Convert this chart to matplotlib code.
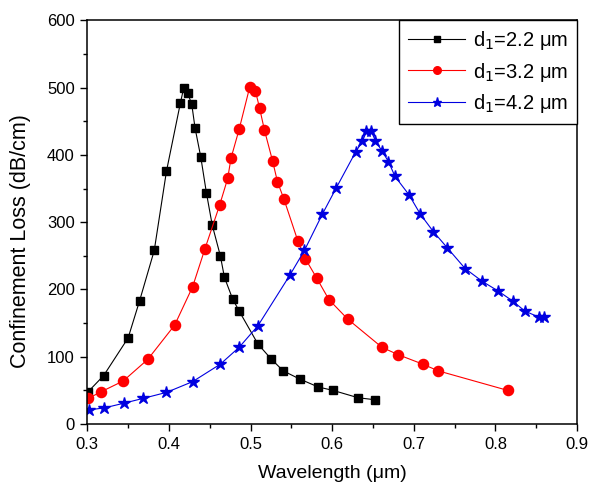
import matplotlib.pyplot as plt
from matplotlib.ticker import MultipleLocator

plt.rcParams['font.family'] = ['Liberation Sans', 'DejaVu Sans']

# d1 = 2.2 um
x_22 = [0.301, 0.320, 0.350, 0.364, 0.382, 0.397, 0.414, 0.418, 0.423, 0.428,
        0.432, 0.439, 0.446, 0.453, 0.463, 0.468, 0.478, 0.486, 0.509, 0.525,
        0.540, 0.560, 0.583, 0.601, 0.632, 0.653]
y_22 = [48, 72, 128, 183, 258, 376, 477, 499, 492, 475,
        440, 397, 343, 296, 250, 218, 186, 168, 119, 97,
        79, 67, 55, 50, 39, 36]

# d1 = 3.2 um
x_32 = [0.301, 0.317, 0.344, 0.374, 0.407, 0.429, 0.444, 0.462, 0.472, 0.476,
        0.486, 0.499, 0.506, 0.511, 0.517, 0.527, 0.533, 0.541, 0.558, 0.567,
        0.581, 0.596, 0.619, 0.661, 0.681, 0.711, 0.730, 0.815]
y_32 = [38, 48, 64, 96, 147, 204, 260, 325, 365, 395,
        438, 501, 495, 470, 437, 391, 360, 334, 272, 246,
        217, 185, 156, 114, 103, 89, 79, 50]

# d1 = 4.2 um
x_42 = [0.302, 0.321, 0.345, 0.368, 0.397, 0.429, 0.463, 0.486, 0.509, 0.548,
        0.566, 0.588, 0.605, 0.629, 0.637, 0.642, 0.648, 0.653, 0.661, 0.669,
        0.677, 0.694, 0.708, 0.724, 0.741, 0.763, 0.784, 0.803, 0.821, 0.836,
        0.853, 0.859]
y_42 = [21, 24, 31, 38, 47, 63, 89, 114, 146, 221,
        258, 312, 351, 405, 420, 435, 435, 421, 406, 390,
        368, 341, 312, 286, 262, 231, 212, 198, 183, 168,
        159, 159]

labels = ['d$_1$=2.2 μm', 'd$_1$=3.2 μm', 'd$_1$=4.2 μm']

fig = plt.figure(figsize=(5.9, 4.95), dpi=100)
ax = fig.add_axes([0.148, 0.1434, 0.830, 0.8154])

ax.plot(x_22, y_22, color='black', lw=0.8, marker='s', ms=6.3, label=labels[0])
ax.plot(x_32, y_32, color='#ff0000', lw=0.8, marker='o', ms=7.3, label=labels[1])
ax.plot(x_42, y_42, color='#0000e0', lw=0.8, marker='*', ms=9, label=labels[2])

ax.set_xlim(0.3, 0.9)
ax.set_ylim(0, 600)
ax.xaxis.set_major_locator(MultipleLocator(0.1))
ax.xaxis.set_minor_locator(MultipleLocator(0.05))
ax.yaxis.set_major_locator(MultipleLocator(100))
ax.yaxis.set_minor_locator(MultipleLocator(50))
ax.tick_params(which='major', direction='out', length=5, width=1, labelsize=12, pad=4)
ax.tick_params(which='minor', direction='out', length=3, width=1)
for s in ax.spines.values():
    s.set_linewidth(1.1)

ax.set_xlabel('Wavelength (μm)', fontsize=14, labelpad=10)
ax.set_ylabel('Confinement Loss (dB/cm)', fontsize=15.5)
ax.yaxis.set_label_coords(-0.115, 0.453)

leg = ax.legend(loc='upper right', fontsize=14.5, handlelength=2.8,
                handletextpad=0.4, markerscale=0.75, fancybox=False,
                edgecolor='black', framealpha=1, borderpad=0.45,
                labelspacing=0.4, borderaxespad=0)
leg.get_frame().set_linewidth(1.0)

fig.savefig('out.png', dpi=100)
